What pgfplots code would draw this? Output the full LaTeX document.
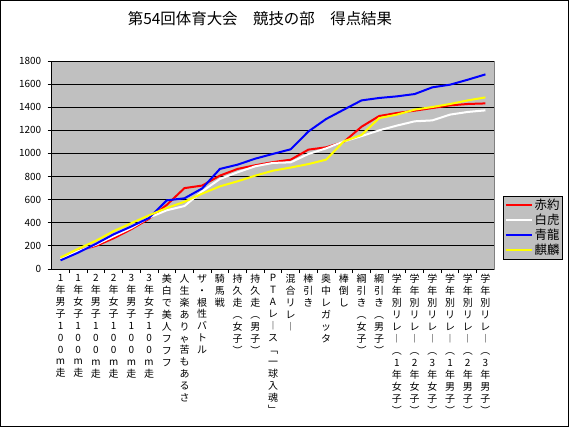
\documentclass[border=0pt]{standalone}
\usepackage{fontspec}
\setmainfont{Noto Sans CJK JP}
\usepackage{pgfplots}
\pgfplotsset{compat=1.18}

\definecolor{bggray}{RGB}{192,192,192}
\definecolor{framegray}{RGB}{128,128,128}
\definecolor{s1}{RGB}{255,0,0}
\definecolor{s2}{RGB}{255,255,255}
\definecolor{s3}{RGB}{0,0,255}
\definecolor{s4}{RGB}{255,255,0}

% stack the characters of a label one under the other
\ExplSyntaxOn
\NewDocumentCommand\vt{m}{
  \seq_clear:N \l_tmpa_seq
  \tl_map_inline:nn {#1}{ \seq_put_right:Nn \l_tmpa_seq {##1} }
  \seq_use:Nn \l_tmpa_seq {\\}
}
\ExplSyntaxOff

\begin{document}
\begin{tikzpicture}
\path[use as bounding box] (0,0) rectangle (569bp,427bp);
\draw[line width=1bp] (0.5bp,0.5bp) rectangle (568.5bp,426.5bp);
\begin{axis}[
  at={(51.7bp,158bp)}, anchor=south west,
  scale only axis, width=442.6bp, height=208bp,
  xmin=0.5, xmax=25.5, ymin=0, ymax=1800,
  axis lines*=left, axis line style={-, black, line width=0.8bp},
  axis background/.style={fill=bggray, draw=framegray, line width=0.8bp},
  xtick={1,...,25},
  minor xtick={1.5,2.5,...,24.5},
  major x tick style={draw=none},
  ytick={0,200,...,1800},
  tick align=outside, major tick length=4bp, minor tick length=4bp,
  tick style={black, line width=0.8bp},
  ymajorgrids, grid style={black, line width=0.8bp},
  /pgf/number format/assume math mode=true,
  y tick label style={/pgf/number format/1000 sep={}, font=\fontsize{10}{12}\selectfont, xshift=-3bp},
  x tick label style={align=center, anchor=north, font=\fontsize{10}{12}\selectfont, inner sep=1bp},
  xticklabels={
    \vt{1年男子100m走}, \vt{1年女子100m走}, \vt{2年男子100m走},
    \vt{2年女子100m走}, \vt{3年男子100m走}, \vt{3年女子100m走},
    \vt{美白で美人フフフ}, \vt{人生楽ありゃ苦もあるさ}, \vt{ザ・根性バトル},
    \vt{騎馬戦}, \vt{持久走︵女子︶}, \vt{持久走︵男子︶},
    \vt{PTAレ︱ス﹁一球入魂﹂}, \vt{混合リレ︱}, \vt{棒引き},
    \vt{奥中レガッタ}, \vt{棒倒し}, \vt{綱引き︵女子︶}, \vt{綱引き︵男子︶},
    \vt{学年別リレ︱︵1年女子︶}, \vt{学年別リレ︱︵2年女子︶},
    \vt{学年別リレ︱︵3年女子︶}, \vt{学年別リレ︱︵1年男子︶},
    \vt{学年別リレ︱︵2年男子︶}, \vt{学年別リレ︱︵3年男子︶}},
  title={第54回体育大会　競技の部　得点結果},
  title style={at={(0.4706,1.173)}, anchor=center, font=\fontsize{15.5}{18}\selectfont},
  legend style={at={(1.0203,0.351)}, anchor=north west, fill=bggray, draw=black,
    line width=0.8bp, font=\fontsize{12.5}{14}\selectfont, inner sep=1bp,
    row sep=-1bp, cells={anchor=west}},
  legend image code/.code={\draw[#1] (0bp,0bp) -- (26bp,0bp);},
  every axis plot/.append style={line width=2bp, mark=none},
]
\addplot[s1] coordinates {
  (1,85) (2,160) (3,200) (4,266) (5,345) (6,435) (7,555) (8,700) (9,722)
  (10,808) (11,866) (12,898) (13,925) (14,946) (15,1033) (16,1053) (17,1100)
  (18,1231) (19,1324) (20,1350) (21,1370) (22,1393) (23,1416) (24,1428) (25,1433)};
\addlegendentry{赤約}
\addplot[s2] coordinates {
  (1,85) (2,155) (3,210) (4,283) (5,355) (6,445) (7,508) (8,545) (9,672)
  (10,779) (11,837) (12,889) (13,918) (14,923) (15,995) (16,1044) (17,1104)
  (18,1150) (19,1200) (20,1241) (21,1278) (22,1286) (23,1336) (24,1359) (25,1373)};
\addlegendentry{白虎}
\addplot[s3] coordinates {
  (1,75) (2,142) (3,218) (4,300) (5,368) (6,442) (7,594) (8,612) (9,697)
  (10,866) (11,903) (12,955) (13,996) (14,1036) (15,1190) (16,1298) (17,1379)
  (18,1459) (19,1480) (20,1494) (21,1514) (22,1572) (23,1595) (24,1638) (25,1684)};
\addlegendentry{青龍}
\addplot[s4] coordinates {
  (1,100) (2,175) (3,245) (4,328) (5,397) (6,465) (7,528) (8,582) (9,652)
  (10,715) (11,759) (12,808) (13,851) (14,878) (15,908) (16,946) (17,1104)
  (18,1160) (19,1306) (20,1336) (21,1379) (22,1402) (23,1428) (24,1459) (25,1485)};
\addlegendentry{麒麟}
\end{axis}
\end{tikzpicture}
\end{document}
